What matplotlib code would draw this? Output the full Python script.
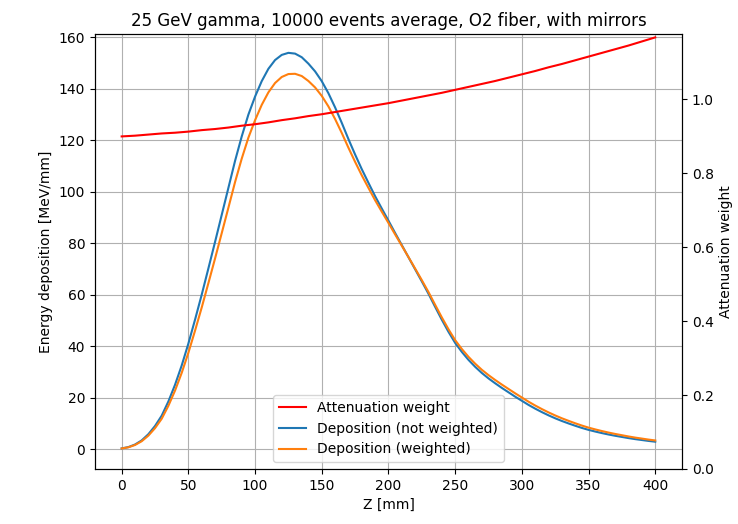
import matplotlib
matplotlib.use("Agg")
import matplotlib.pyplot as plt

# Longitudinal position along the fiber [mm], 5 mm bins
z_mm = list(range(0, 401, 5))

# Attenuation weight along z
atten_weight = [0.900, 0.901, 0.902, 0.9035, 0.905, 0.9065, 0.908, 0.909, 0.910,
                0.9115, 0.913, 0.915, 0.917, 0.9185, 0.920, 0.922, 0.924, 0.9265,
                0.929, 0.931, 0.933, 0.9355, 0.938, 0.941, 0.944, 0.9465, 0.949,
                0.952, 0.955, 0.9575, 0.960, 0.963, 0.966, 0.969, 0.972, 0.975,
                0.978, 0.981, 0.984, 0.987, 0.990, 0.9935, 0.997, 1.0005, 1.004,
                1.0075, 1.011, 1.0145, 1.018, 1.022, 1.026, 1.030, 1.034, 1.038,
                1.042, 1.046, 1.050, 1.0545, 1.059, 1.0635, 1.068, 1.0725, 1.077,
                1.082, 1.087, 1.0915, 1.096, 1.101, 1.106, 1.111, 1.116, 1.121,
                1.126, 1.131, 1.136, 1.141, 1.146, 1.1515, 1.157, 1.1625, 1.168]

# Average energy deposition [MeV/mm], raw
dep_raw = [0.3, 0.8, 1.8, 3.4, 5.8, 9.0, 13.0, 18.5, 25.0, 32.5, 41.0, 50.3,
           60.0, 70.2, 80.5, 91.0, 101.5, 112.0, 121.5, 130.0, 137.0, 143.0,
           147.8, 151.2, 153.2, 154.0, 153.7, 152.3, 149.8, 146.8, 143.0, 138.3,
           132.8, 126.8, 120.5, 114.5, 108.8, 103.5, 98.3, 93.5, 88.8, 84.0,
           79.3, 74.6, 69.9, 65.2, 60.4, 55.3, 50.3, 45.6, 41.3, 37.8, 34.7,
           32.0, 29.6, 27.5, 25.6, 23.8, 22.1, 20.4, 18.8, 17.2, 15.75, 14.4,
           13.15, 12.0, 10.95, 10.0, 9.1, 8.25, 7.5, 6.85, 6.25, 5.7, 5.2, 4.75,
           4.3, 3.9, 3.55, 3.2, 2.9]

# Average energy deposition [MeV/mm], attenuation weighted
dep_weighted = [0.27, 0.72, 1.62, 3.07, 5.25, 8.16, 11.80, 16.82, 22.75, 29.62,
                37.43, 46.02, 55.02, 64.48, 74.06, 83.90, 93.79, 103.77, 112.87,
                121.03, 127.82, 133.78, 138.64, 142.28, 144.62, 145.76, 145.86,
                144.99, 143.06, 140.56, 137.28, 133.18, 128.28, 122.87, 117.13,
                111.64, 106.41, 101.53, 96.73, 92.28, 87.91, 83.45, 79.06, 74.64,
                70.18, 65.69, 61.06, 56.10, 51.21, 46.60, 42.37, 38.93, 35.88,
                33.22, 30.84, 28.77, 26.88, 25.10, 23.40, 21.70, 20.08, 18.45,
                16.96, 15.58, 14.29, 13.10, 12.00, 11.01, 10.06, 9.17, 8.37, 7.68,
                7.04, 6.45, 5.91, 5.42, 4.93, 4.49, 4.11, 3.72, 3.39]

fig = plt.figure(figsize=(7.38, 5.24), dpi=100)
ax = fig.add_axes([0.1287, 0.105, 0.7953, 0.83])
ax2 = ax.twinx()

l_raw, = ax.plot(z_mm, dep_raw, color="C0", label="Deposition (not weighted)")
l_w, = ax.plot(z_mm, dep_weighted, color="C1", label="Deposition (weighted)")
l_att, = ax2.plot(z_mm, atten_weight, color="red", label="Attenuation weight")

ax.set_xlim(-20, 420)
ax.set_ylim(-7.7, 161.3)
ax.set_yticks(range(0, 161, 20))
ax.set_xticks(range(0, 401, 50))
ax.grid(True)
ax.set_xlabel("Z [mm]")
ax.set_ylabel("Energy deposition [MeV/mm]")

ax2.set_ylim(0, 1.177)
ax2.set_yticks([0.0, 0.2, 0.4, 0.6, 0.8, 1.0])
ax2.set_ylabel("Attenuation weight")

ax.set_title("25 GeV gamma, 10000 events average, O2 fiber, with mirrors")
ax2.legend(handles=[l_att, l_raw, l_w], loc="lower center")

fig.savefig("out.png", dpi=100)
